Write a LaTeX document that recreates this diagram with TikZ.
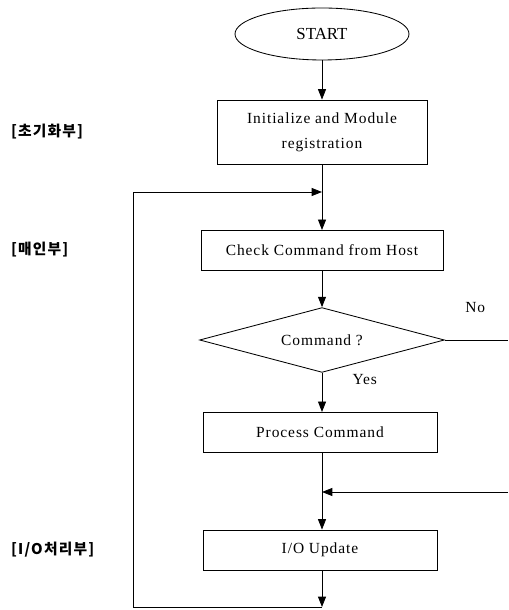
\documentclass[tikz,border=0pt]{standalone}
\usepackage{fontspec}
\setmainfont{Liberation Serif}
\newfontfamily\wideserif[LetterSpace=6]{Liberation Serif}
\newfontfamily\kofont[LetterSpace=8]{Noto Sans CJK KR}
\usetikzlibrary{shapes.geometric,arrows.meta}

\begin{document}
\begin{tikzpicture}[
    line width=0.6pt,
    box/.style={draw, minimum height=1cm, align=center, font=\wideserif\fontsize{11}{18}\selectfont},
    flow/.style={-{Triangle[length=0.26cm,width=0.2cm]}},
    part/.style={anchor=west, font=\kofont\fontsize{10.5}{12}\selectfont\bfseries},
    lbl/.style={font=\wideserif\fontsize{11}{13}\selectfont}
]
    \useasboundingbox (0,0) rectangle (12.7,15.25);

    % Flow nodes
    \node[draw, ellipse, minimum width=4.35cm, minimum height=1.3cm, font=\fontsize{12}{14}\selectfont] (start) at (8.05,14.4) {START};
    \node[box, minimum width=5.25cm, minimum height=1.62cm] (init) at (8.05,11.94) {Initialize and Module\\registration};
    \node[box, minimum width=6.05cm] (check) at (8.05,8.99) {Check Command from Host};
    \node[draw, diamond, aspect=3.77, minimum width=6.12cm, minimum height=1.62cm, inner sep=0pt, font=\wideserif\fontsize{11}{13}\selectfont] (cmd) at (8.05,6.75) {Command ?};
    \node[box, minimum width=5.85cm] (proc) at (8.0,4.44) {Process Command};
    \node[box, minimum width=5.85cm] (io) at (8.0,1.5) {I/O Update};

    % Junctions
    \coordinate (jt) at (8.05,10.45);
    \coordinate (jb) at (8.05,2.95);
    \coordinate (bot) at (8.05,0.075);
    \coordinate (lb) at (3.325,0.075);
    \coordinate (lt) at (3.325,10.45);
    \coordinate (noend) at (12.7,6.75);
    \coordinate (retin) at (12.7,2.95);

    % Part labels
    \node[part] (pinit) at (0.15,11.95) {[초기화부]};
    \node[part] (pmain) at (0.15,9.0) {[매인부]};
    \node[part] (pio) at (0.15,1.5) {[I/O처리부]};

    % Connectors
    \draw[flow] (start) -- (init);
    \draw (init) -- (jt);
    \draw[flow] (jt) -- (check);
    \draw[flow] (check) -- (cmd);
    \draw[flow] (cmd) -- (proc.north -| jt);
    \draw (proc.south -| jb) -- (jb);
    \draw[flow] (jb) -- (io.north -| jb);
    \draw[flow] (io.south -| bot) -- (bot);
    \draw[flow] (bot) -- (lb) -- (lt) -- (jt);
    \draw (cmd.east) -- (noend);
    \draw[flow] (retin) -- (jb);

    % Branch labels
    \node[lbl] (no) at (11.88,7.55) {No};
    \node[lbl] (yes) at (9.12,5.75) {Yes};
\end{tikzpicture}
\end{document}
